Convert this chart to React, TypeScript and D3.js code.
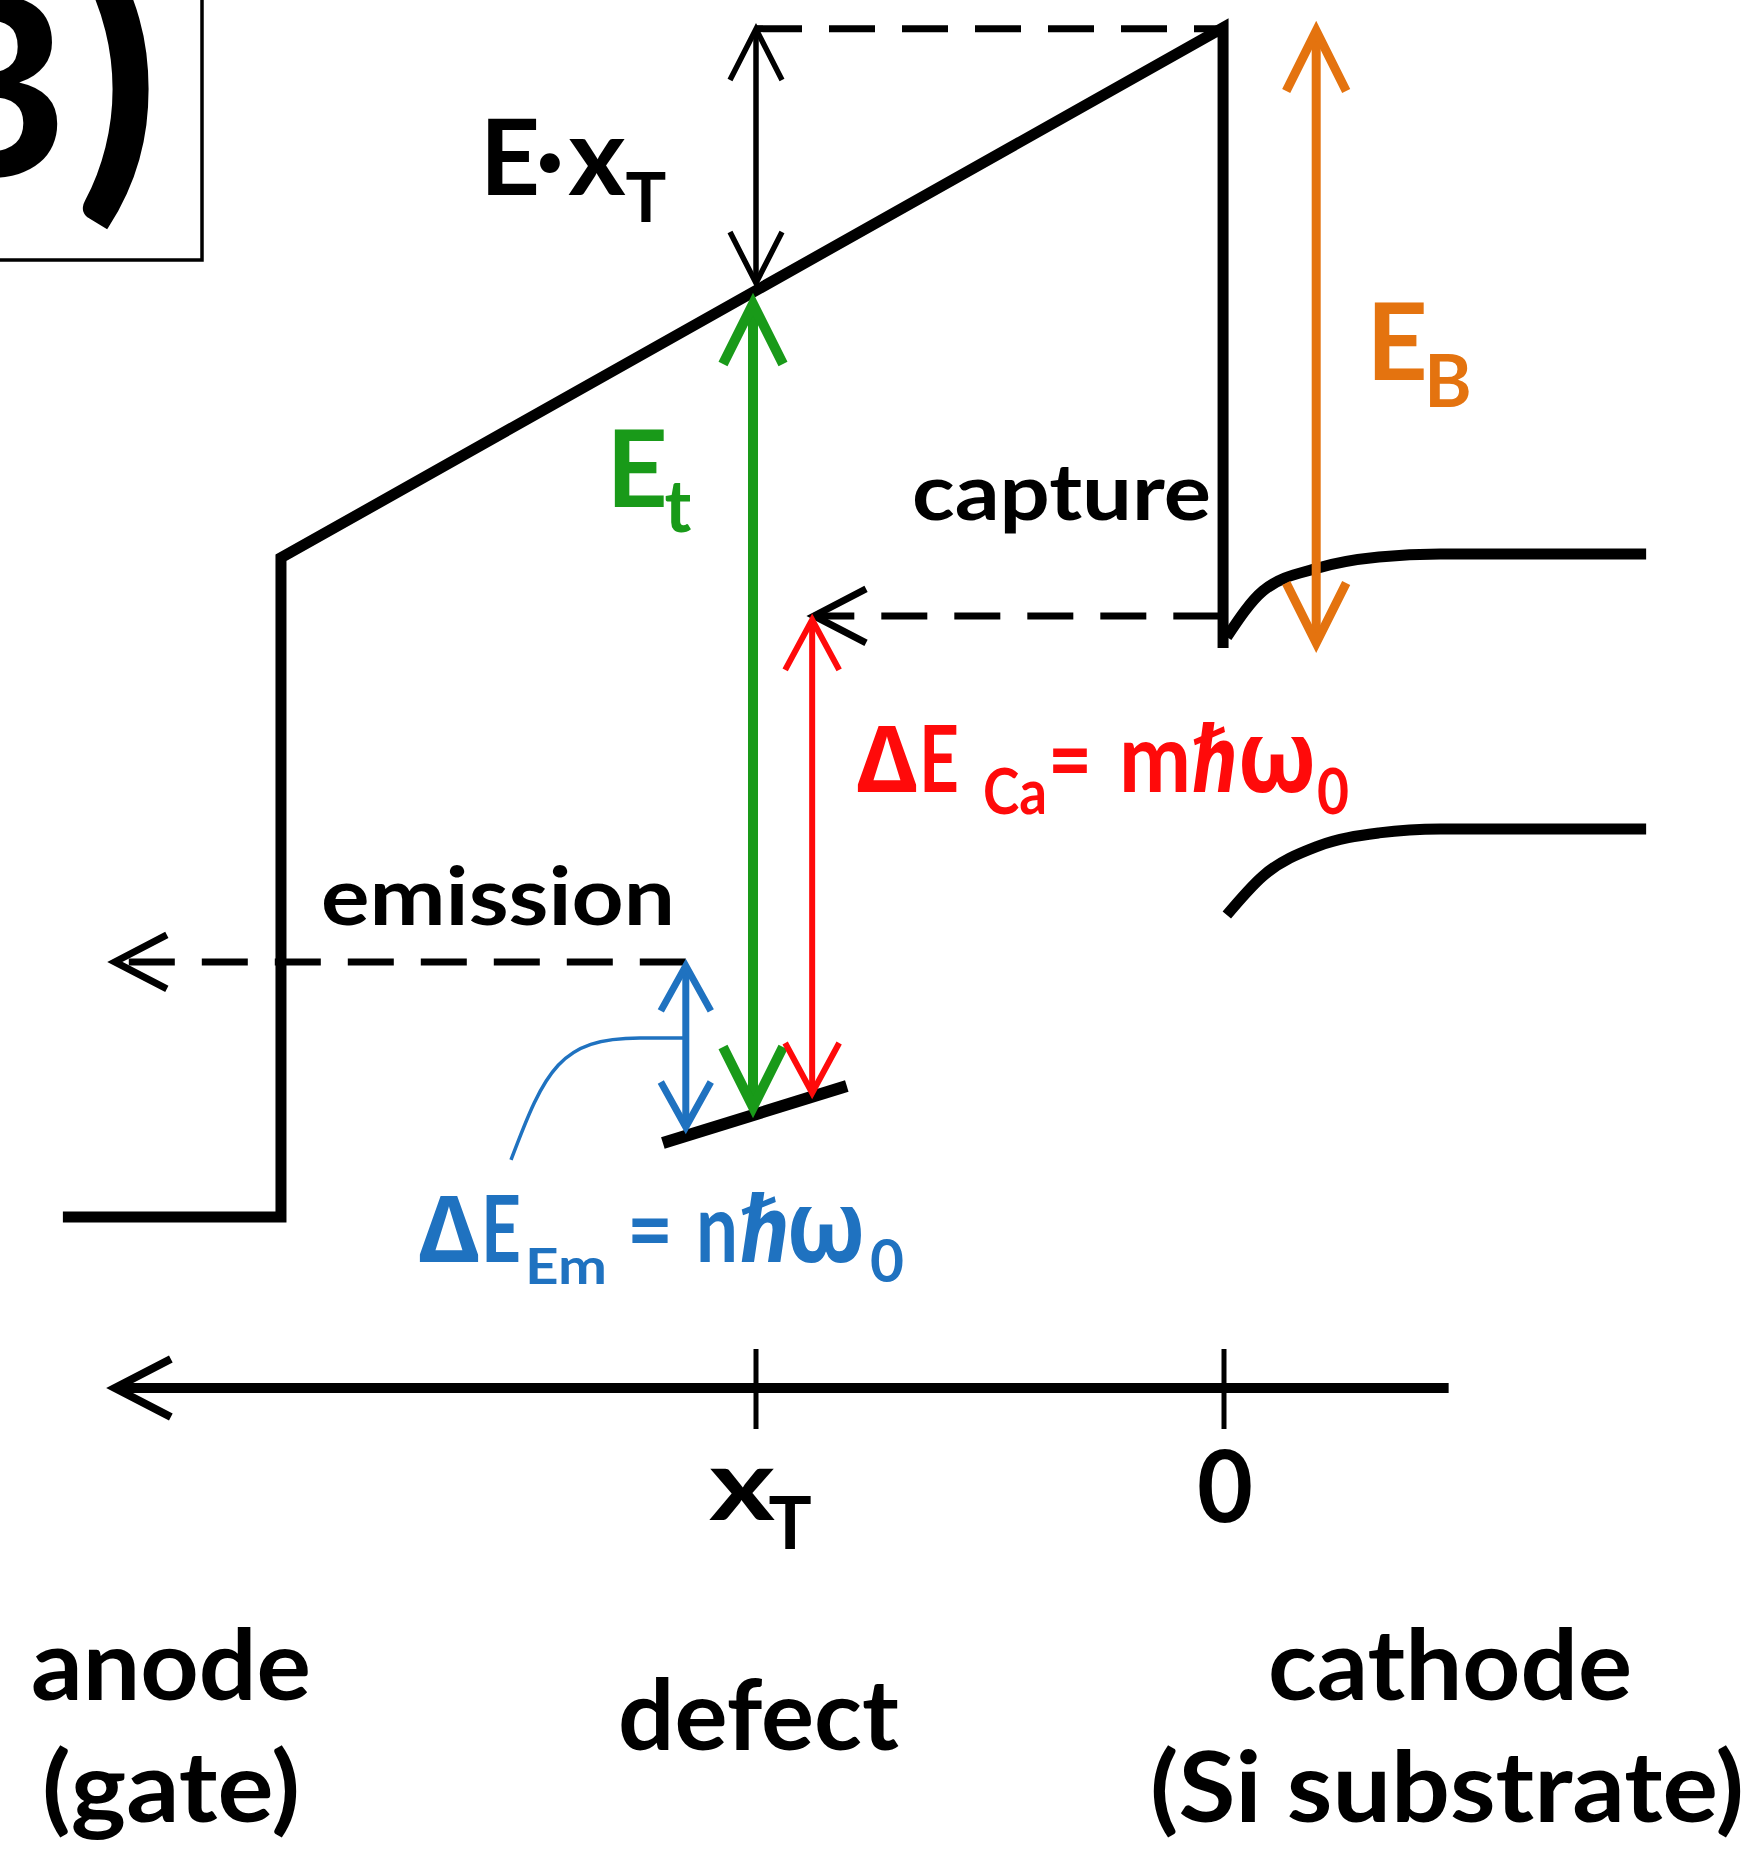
import React from 'react';
import * as d3 from 'd3';

// ---------- data (distance in units of x_T: interface = 0, defect = 1, grows toward gate;
//            energy in eV relative to the Si conduction band edge) ----------
const gateBand: [number, number][] = [
  [2.481, -3.489], [2.015, -3.489], [2.015, -0.02], [0.002, 2.77], [0.002, -0.495],
];
const siConduction: [number, number][] = [
  [-0.006, -0.437], [-0.083, -0.195], [-0.201, -0.074], [-0.331, -0.016], [-0.462, 0], [-0.902, 0],
];
const siValence: [number, number][] = [
  [-0.006, -1.9], [-0.083, -1.695], [-0.201, -1.537], [-0.331, -1.468], [-0.462, -1.447], [-0.902, -1.447],
];
const defectLevel: [number, number][] = [[1.199, -3.1], [0.806, -2.8]];
// dashed transitions: [u start, u tip, energy, has head]
const dashedLines: [number, number, number, boolean][] = [
  [1.0, 0.004, 2.765, false],   // top reference
  [0.01, 0.876, -0.326, true],  // capture
  [1.15, 2.37, -2.147, true],   // emission
];
// blue pointer from label to emission barrier: start, control 1, control 2, bend, end
const pointer: [number, number][] = [[1.5235, -3.189], [1.451, -2.716], [1.419, -2.547], [1.248, -2.547], [1.152, -2.547]];
// double arrows: [u, e top, e bottom]
const exArrow: [number, number, number] = [1.0, 2.763, 1.426];
const etArrow: [number, number, number] = [1.0064, 1.316, -2.911];
const caArrow: [number, number, number] = [0.88, -0.347, -2.837];
const emArrow: [number, number, number] = [1.15, -2.168, -3.016];
const ebArrow: [number, number, number] = [-0.197, 2.753, -0.468];
const axisRange: [number, number] = [2.37, -0.48];
const axisTicks = [1, 0];
const axisTickLabels = ['x', '0'];
const bottomLabels = ['anode', '(gate)', 'defect', 'cathode', '(Si substrate)'];

// ---------- scales ----------
const xS = d3.scaleLinear().domain([0, 1]).range([1224, 756]);
const yS = d3.scaleLinear().domain([0, 1]).range([554, 364]);
const straight = d3.line<[number, number]>().x(d => xS(d[0])).y(d => yS(d[1]));
const smooth = d3.line<[number, number]>().x(d => xS(d[0])).y(d => yS(d[1])).curve(d3.curveMonotoneX);

const GREEN = '#199a19';
const RED = '#ff0a0a';
const BLUE = '#1f72c0';
const ORANGE = '#e4730f';
const FONT = "Lato, 'Noto Sans', sans-serif";
const GREEK = "'Noto Sans', 'DejaVu Sans', sans-serif";
const HBAR = "'DejaVu Sans', sans-serif";

function chevron(tx: number, ty: number, dx: number, dy: number, len: number, half: number) {
  const nx = -dy, ny = dx;
  const ax = tx + dx * len + nx * half, ay = ty + dy * len + ny * half;
  const bx = tx + dx * len - nx * half, by = ty + dy * len - ny * half;
  return `M${ax},${ay}L${tx},${ty}L${bx},${by}`;
}

function DoubleArrow({ a, color, w, len, half }: { a: [number, number, number]; color: string; w: number; len: number; half: number }) {
  const x = xS(a[0]);
  const y1 = yS(a[1]);
  const y2 = yS(a[2]);
  return (
    <g stroke={color} strokeWidth={w} fill="none" strokeLinejoin="miter" strokeMiterlimit={10}>
      <line x1={x} y1={y1 + 2} x2={x} y2={y2 - 2} />
      <path d={chevron(x, y1, 0, 1, len, half)} />
      <path d={chevron(x, y2, 0, -1, len, half)} />
    </g>
  );
}

type Piece = { t: string; x: number; y: number; s: number; fill: string; anchor?: string; len?: number; fam?: string; it?: boolean };

const pieces: Piece[] = [
  // E·x_T
  { t: 'E', x: 510, y: 195, s: 105, fill: '#000' },
  { t: '·', x: 550, y: 195, s: 105, fill: '#000' },
  { t: 'x', x: 597, y: 195, s: 110, fill: '#000' },
  { t: 'T', x: 646, y: 222, s: 68, fill: '#000' },
  // E_t
  { t: 'E', x: 637, y: 507, s: 107, fill: GREEN },
  { t: 't', x: 678, y: 532, s: 72, fill: GREEN },
  // E_B
  { t: 'E', x: 1397, y: 380, s: 107, fill: ORANGE },
  { t: 'B', x: 1448, y: 407, s: 72, fill: ORANGE },
  // ΔE_Ca = mħω0
  { t: 'Δ', x: 887, y: 792, s: 92, fill: RED, fam: GREEK, len: 60 },
  { t: 'E', x: 939, y: 792, s: 92, fill: RED, len: 40 },
  { t: 'Ca', x: 983, y: 814, s: 63, fill: RED, anchor: 'start', len: 64 },
  { t: '=', x: 1070, y: 792, s: 92, fill: RED, len: 44 },
  { t: 'm', x: 1155, y: 792, s: 95, fill: RED, len: 72 },
  { t: 'ℏ', x: 1216, y: 792, s: 92, fill: RED, fam: HBAR, len: 46 },
  { t: 'ω', x: 1277, y: 792, s: 100, fill: RED, fam: GREEK, len: 80 },
  { t: '0', x: 1333, y: 814, s: 63, fill: RED, len: 32 },
  // ΔE_Em = nħω0
  { t: 'Δ', x: 449, y: 1262, s: 92, fill: BLUE, fam: GREEK, len: 60 },
  { t: 'E', x: 501, y: 1262, s: 92, fill: BLUE, len: 40 },
  { t: 'Em', x: 525, y: 1284, s: 50, fill: BLUE, anchor: 'start', len: 82 },
  { t: '=', x: 650, y: 1262, s: 92, fill: BLUE, len: 46 },
  { t: 'n', x: 717, y: 1262, s: 96, fill: BLUE, len: 42 },
  { t: 'ℏ', x: 766, y: 1262, s: 92, fill: BLUE, fam: HBAR, len: 50 },
  { t: 'ω', x: 826, y: 1262, s: 100, fill: BLUE, fam: GREEK, len: 80 },
  { t: '0', x: 887, y: 1282, s: 60, fill: BLUE, len: 34 },
  // words
  { t: 'capture', x: 912, y: 520, s: 78, fill: '#000', anchor: 'start', len: 299 },
  { t: 'emission', x: 321, y: 925, s: 80, fill: '#000', anchor: 'start', len: 354 },
  // axis labels
  { t: axisTickLabels[0], x: 742, y: 1520, s: 100, fill: '#000', len: 66 },
  { t: 'T', x: 790, y: 1549, s: 72, fill: '#000' },
  { t: axisTickLabels[1], x: 1225, y: 1522, s: 100, fill: '#000', len: 56 },
  // bottom labels
  { t: bottomLabels[0], x: 31, y: 1700, s: 97, fill: '#000', anchor: 'start', len: 280 },
  { t: bottomLabels[1], x: 42, y: 1822, s: 97, fill: '#000', anchor: 'start', len: 258 },
  { t: bottomLabels[2], x: 618, y: 1750, s: 97, fill: '#000', anchor: 'start', len: 281 },
  { t: bottomLabels[3], x: 1268, y: 1700, s: 97, fill: '#000', anchor: 'start', len: 364 },
  { t: bottomLabels[4], x: 1150, y: 1822, s: 97, fill: '#000', anchor: 'start', len: 594 },
];

export default function App() {
  const axisY = 1388;
  const [p0, c1, c2, p3, p4] = pointer.map(d => [xS(d[0]), yS(d[1])]);
  return (
    <svg width={1756} height={1853} viewBox="0 0 1756 1853"
      style={{ position: 'absolute', left: 0, top: 0, background: '#fff' }}>
      <rect x={0} y={0} width={1756} height={1853} fill="#fff" />
      {/* panel label */}
      <rect x={-10} y={-10} width={212} height={270} fill="none" stroke="#000" strokeWidth={3.5} />
      <text x={68} y={178} fontSize={255} fontWeight={700} fontFamily={FONT} textAnchor="end">B</text>
      <text x={117} y={180} fontSize={290} fontWeight={700} fontFamily={FONT} textAnchor="middle"
        stroke="#000" strokeWidth={5}>)</text>

      {/* bands */}
      <path d={straight(gateBand) || ''} fill="none" stroke="#000" strokeWidth={11} strokeLinejoin="miter" strokeMiterlimit={10} />
      <path d={smooth(siConduction) || ''} fill="none" stroke="#000" strokeWidth={11} />
      <path d={smooth(siValence) || ''} fill="none" stroke="#000" strokeWidth={11} />
      <path d={straight(defectLevel) || ''} fill="none" stroke="#000" strokeWidth={12} />

      {/* dashed transitions */}
      {dashedLines.map(([u1, u2, e, head], i) => {
        const y = yS(e);
        const x1 = xS(u1), x2 = xS(u2);
        const dir = x2 < x1 ? 1 : -1;
        return (
          <g key={i} stroke="#000" strokeWidth={7} fill="none">
            <line x1={x1} y1={y} x2={x2 + (head ? dir * 4 : 0)} y2={y} strokeDasharray="46 27" />
            {head && <path d={chevron(x2, y, dir, 0, 52, 27)} strokeLinejoin="miter" />}
          </g>
        );
      })}

      {/* blue pointer */}
      <path d={`M${p0[0]},${p0[1]} C${c1[0]},${c1[1]} ${c2[0]},${c2[1]} ${p3[0]},${p3[1]} L${p4[0]},${p4[1]}`}
        fill="none" stroke={BLUE} strokeWidth={3.5} />

      {/* arrows */}
      <DoubleArrow a={exArrow} color="#000" w={5.5} len={51} half={26} />
      <DoubleArrow a={etArrow} color={GREEN} w={10} len={60} half={30} />
      <DoubleArrow a={caArrow} color={RED} w={6} len={50} half={27} />
      <DoubleArrow a={emArrow} color={BLUE} w={7} len={45} half={25} />
      <DoubleArrow a={ebArrow} color={ORANGE} w={9} len={60} half={30} />

      {/* distance axis */}
      <g stroke="#000" fill="none">
        <line x1={xS(axisRange[0]) + 3} y1={axisY} x2={xS(axisRange[1])} y2={axisY} strokeWidth={10} />
        <path d={chevron(xS(axisRange[0]), axisY, 1, 0, 56, 29)} strokeWidth={8} strokeLinejoin="miter" />
        {axisTicks.map(t => (
          <line key={t} x1={xS(t)} x2={xS(t)} y1={axisY - 39} y2={axisY + 41} strokeWidth={5} />
        ))}
      </g>

      {/* text */}
      {pieces.map((p, i) => (
        <text key={i} x={p.x} y={p.y} fontSize={p.s} fill={p.fill} fontWeight={700}
          fontFamily={p.fam || FONT} fontStyle={p.it ? 'italic' : 'normal'}
          textAnchor={p.anchor || 'middle'}
          {...(p.len ? { textLength: p.len, lengthAdjust: 'spacingAndGlyphs' } : {})}>
          {p.t}
        </text>
      ))}
    </svg>
  );
}
